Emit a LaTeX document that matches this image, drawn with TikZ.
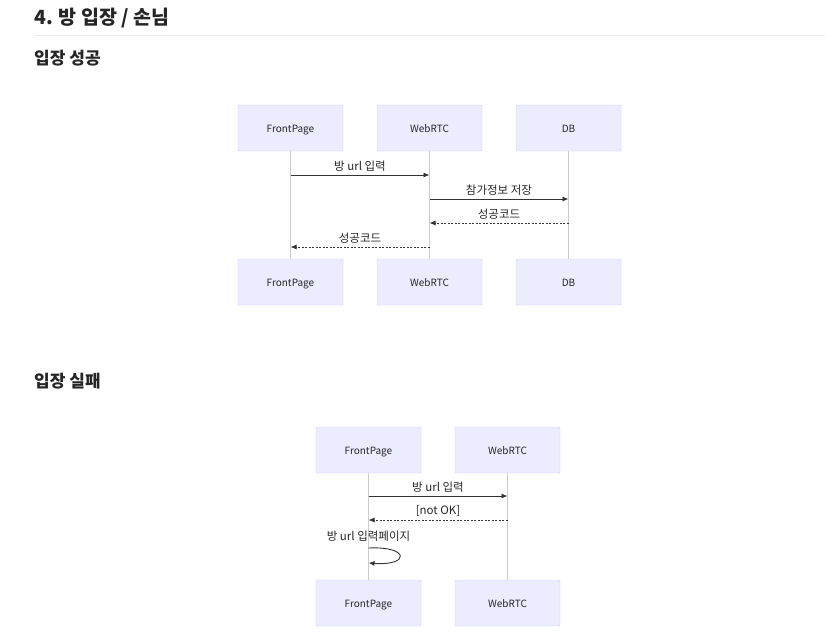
\documentclass[tikz,border=0pt]{standalone}
\usepackage{fontspec}
\setmainfont{Noto Sans CJK KR}
\usetikzlibrary{arrows.meta}
\definecolor{actorfill}{HTML}{ECECFF}
\definecolor{actorline}{HTML}{CCCCFF}
\definecolor{msgline}{HTML}{333333}
\tikzset{
    actor/.style={rectangle, draw=actorline, fill=actorfill, rounded corners=1pt,
    	minimum width=105pt, minimum height=46pt, inner sep=0pt,
    	text height=9pt, text depth=0pt,
    	font=\fontsize{10}{11}\selectfont, text=black!85}
}
\tikzset{
    lifeline/.style={draw=black!20, line width=0.8pt},
    msg/.style={draw=msgline, line width=0.9pt, -{Latex[length=6pt,width=5pt]}},
    reply/.style={msg, dash pattern=on 2pt off 1.5pt},
    msglabel/.style={above=3pt, inner sep=0pt, font=\fontsize{11.5}{13}\selectfont, text=black!85},
    heading/.style={anchor=west, inner sep=0pt, font=\bfseries\fontsize{19.5}{22}\selectfont, text=black!85},
    subheading/.style={anchor=west, inner sep=0pt, font=\bfseries\fontsize{17}{19}\selectfont, text=black!85}
}

\begin{document}
\begin{tikzpicture}[x=1pt, y=-1pt]
	\useasboundingbox (0,0) rectangle (836,638);
	% titles
	\node (title) [heading] at (34,18) {4. 방 입장 / 손님};
	\coordinate (ruleL) at (34,35); \coordinate (ruleR) at (825,35);
	\draw[black!8, line width=1pt] (ruleL) -- (ruleR);
	\node (ok) [subheading] at (34,58) {입장 성공};
	\node (fail) [subheading] at (34,381) {입장 실패};

	% 입장 성공
	\node (fp1) [actor] at (290.5,128) {FrontPage};
	\node (wr1) [actor] at (429.5,128) {WebRTC};
	\node (db1) [actor] at (568.5,128) {DB};
	\node (fp2) [actor] at (290.5,282) {FrontPage};
	\node (wr2) [actor] at (429.5,282) {WebRTC};
	\node (db2) [actor] at (568.5,282) {DB};
	\draw[lifeline] (fp1) -- (fp2); \draw[lifeline] (wr1) -- (wr2);
	\draw[lifeline] (db1) -- (db2);

	\coordinate (a1) at (290.5,175); \coordinate (b1) at (429.5,175);
	\coordinate (b2) at (429.5,199); \coordinate (c2) at (568.5,199);
	\coordinate (c3) at (568.5,223); \coordinate (b3) at (429.5,223);
	\coordinate (b4) at (429.5,247); \coordinate (a4) at (290.5,247);
	\draw[msg] (a1) -- node[msglabel] {방 url 입력} (b1);
	\draw[msg] (b2) -- node[msglabel] {참가정보 저장} (c2);
	\draw[reply] (c3) -- node[msglabel] {성공코드} (b3);
	\draw[reply] (b4) -- node[msglabel] {성공코드} (a4);

	% 입장 실패
	\node (fp3) [actor] at (368.5,450) {FrontPage};
	\node (wr3) [actor] at (507.5,450) {WebRTC};
	\node (fp4) [actor] at (368.5,603) {FrontPage};
	\node (wr4) [actor] at (507.5,603) {WebRTC};
	\draw[lifeline] (fp3) -- (fp4); \draw[lifeline] (wr3) -- (wr4);

	\coordinate (a5) at (368.5,496); \coordinate (b5) at (507.5,496);
	\coordinate (b6) at (507.5,520); \coordinate (a6) at (368.5,520);
	\coordinate (s1) at (368.5,548); \coordinate (s2) at (368.5,563);
	\draw[msg] (a5) -- node[msglabel] {방 url 입력} (b5);
	\draw[reply] (b6) -- node[msglabel] {[not OK]} (a6);
	\node (selflabel) [msglabel] at (368.5,545) {방 url 입력페이지};
	\draw[msg] (s1) .. controls (410,546) and (410,566) .. (s2);
\end{tikzpicture}
\end{document}
